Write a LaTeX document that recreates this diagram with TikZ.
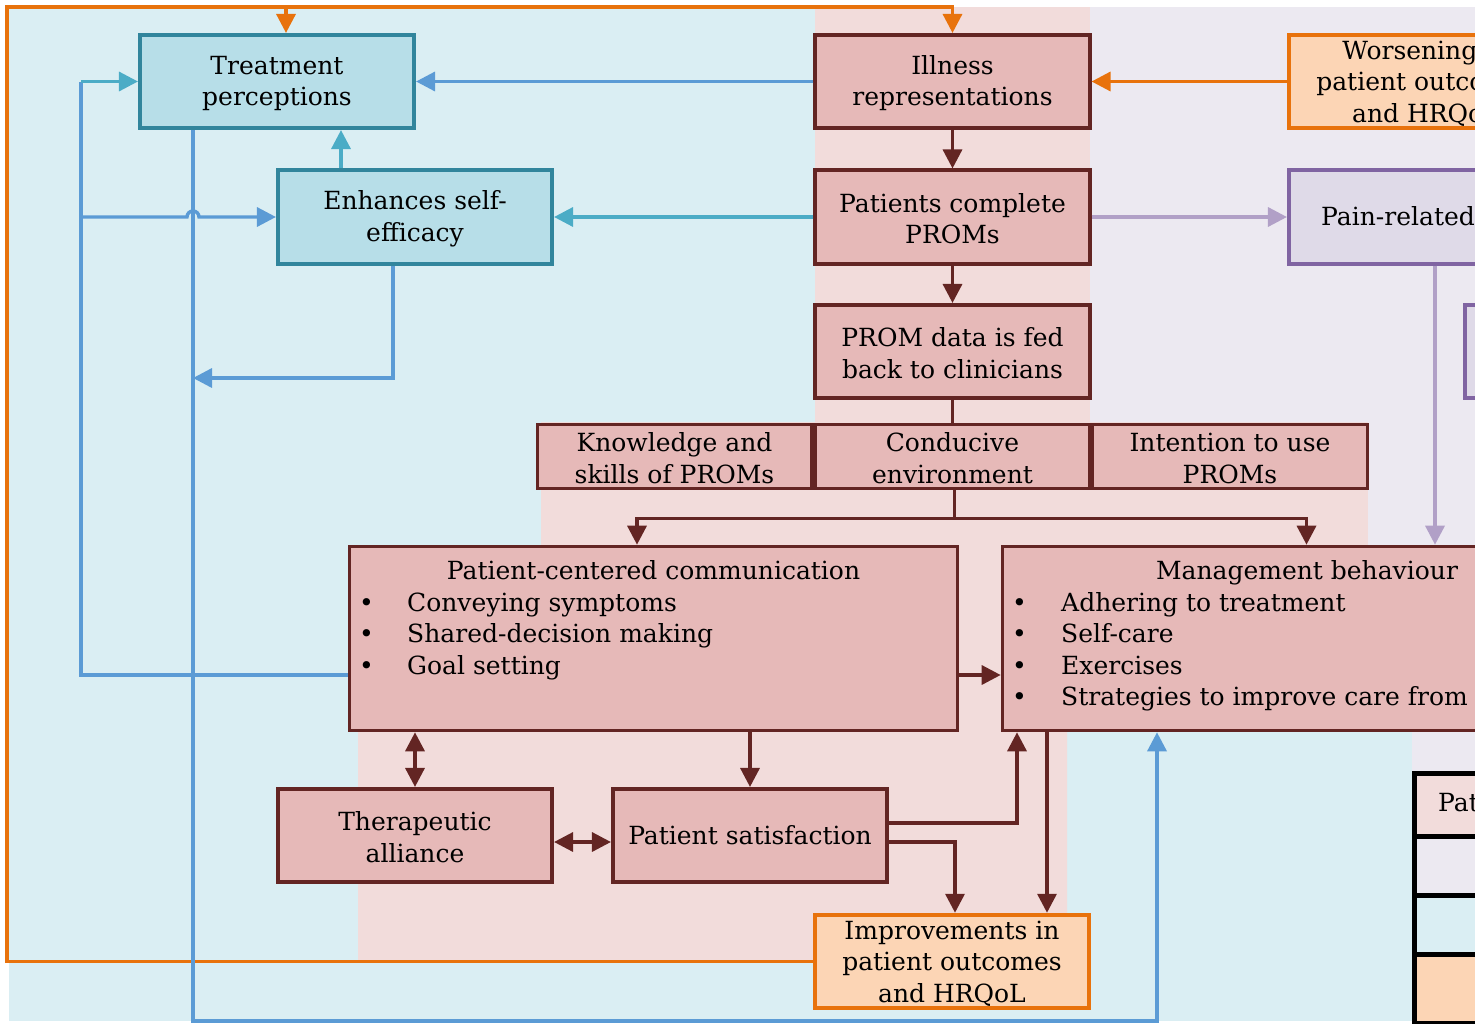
\documentclass[tikz,border=0pt]{standalone}
\usepackage{fontspec}
\setmainfont{DejaVu Serif}
\usetikzlibrary{arrows.meta,calc}
\definecolor{bgblue}{HTML}{DAEEF3}
\definecolor{bgpink}{HTML}{F2DCDB}
\definecolor{bglav}{HTML}{ECE9F1}
\definecolor{fillpink}{HTML}{E6B9B8}
\definecolor{edgered}{HTML}{632523}
\definecolor{fillteal}{HTML}{B7DEE8}
\definecolor{edgeteal}{HTML}{31859C}
\definecolor{fillorange}{HTML}{FCD5B5}
\definecolor{edgeorange}{HTML}{E8720C}
\definecolor{filllav}{HTML}{DFDAE8}
\definecolor{edgelav}{HTML}{8064A2}
\definecolor{lineblue}{HTML}{5B9BD5}
\definecolor{lineteal}{HTML}{4BACC6}
\definecolor{linelav}{HTML}{B1A0C7}
\begin{document}
\begin{tikzpicture}[x=1pt,y=-1pt,
  font=\fontsize{25}{31.5}\selectfont,
  >={Triangle[length=19pt,width=19pt]},
  box/.style={draw, line width=3.6pt, align=center, inner sep=0pt,
              minimum width=274.5pt, minimum height=93.5pt},
  boxpink/.style={box, draw=edgered, fill=fillpink},
  boxteal/.style={box, draw=edgeteal, fill=fillteal},
  boxorange/.style={box, draw=edgeorange, fill=fillorange, line width=4pt},
  boxlav/.style={box, draw=edgelav, fill=filllav},
  legrow/.style={draw=black, line width=4.5pt, minimum width=300pt, inner sep=0pt, anchor=north west},
  lnred/.style={draw=edgered, line width=3.4pt},
  lnblue/.style={draw=lineblue, line width=3.4pt},
  lnteal/.style={draw=lineteal, line width=3.4pt},
  lnlav/.style={draw=linelav, line width=3.4pt},
  lnorange/.style={draw=edgeorange, line width=3.4pt},
  txt/.style={inner sep=0pt, anchor=base west}
]
\useasboundingbox (0,0) rectangle (1475,1023);

% background bands
\fill[bgblue] (9,7) rectangle (1475,1021);
\fill[bgpink] (815,7) -- (1090,7) -- (1090,422) -- (1368,422) -- (1368,640)
  -- (1067,640) -- (1067,960) -- (358,960) -- (358,640) -- (541,640)
  -- (541,422) -- (815,422) -- cycle;
\fill[bglav] (1090,7) -- (1475,7) -- (1475,1021) -- (1412,1021) -- (1412,640)
  -- (1368,640) -- (1368,422) -- (1090,422) -- cycle;

% boxes
\node[boxteal] (treat) at (277,81.5) {\strut Treatment\\perceptions};
\node[boxteal] (enh) at (415,217) {\strut Enhances self-\\efficacy};
\node[boxpink] (ill) at (952.5,81.5) {\strut Illness\\representations};
\node[boxpink] (prom) at (952.5,217) {\strut Patients complete\\PROMs};
\node[boxpink] (fed) at (952.5,351.5) {\strut PROM data is fed\\back to clinicians};
\node[boxpink, minimum width=274pt, minimum height=64pt] (know) at (674.5,456.5) {\strut Knowledge and\\skills of PROMs};
\node[boxpink, minimum width=275pt, minimum height=64pt] (cond) at (952.5,456.5) {\strut Conducive\\environment};
\node[boxpink, minimum width=275pt, minimum height=64pt] (inten) at (1230,456.5) {\strut Intention to use\\PROMs};
\node[boxpink, minimum width=608pt, minimum height=184pt] (pcc) at (653.5,638.5) {};
\node[boxpink, minimum width=608pt, minimum height=184pt] (mgmt) at (1306.5,638.5) {};
\node[boxpink] (ther) at (415,835.5) {\strut Therapeutic\\alliance};
\node[boxpink] (sat) at (750,835.5) {Patient satisfaction};
\node[boxorange] (impr) at (952,961.5) {\strut Improvements in\\patient outcomes\\and HRQoL};
\node[boxorange] (wors) at (1426,81.5) {\strut Worsening of\\patient outcomes\\and HRQoL};
\node[boxlav] (pain) at (1426,217) {};
\node[boxlav] (lavc) at (1602,351.5) {};

% box contents set apart from the boxes
\node[txt] (paintxt) at (1321,225) {Pain-related};
\node[inner sep=0pt, anchor=base] (pcctitle) at (653.5,579) {Patient-centered communication};
\node[txt] (pcclist) at (359,611) {\begin{tabular}[t]{@{}p{48pt}@{}l@{}}
  \textbullet & Conveying symptoms\\
  \textbullet & Shared-decision making\\
  \textbullet & Goal setting
\end{tabular}};
\node[inner sep=0pt, anchor=base] (mgtitle) at (1307,579) {Management behaviour};
\node[txt] (mglist) at (1012,611) {\begin{tabular}[t]{@{}p{49pt}@{}l@{}}
  \textbullet & Adhering to treatment\\
  \textbullet & Self-care\\
  \textbullet & Exercises\\
  \textbullet & Strategies to improve care from others
\end{tabular}};

% legend
\node[legrow, fill=bgpink, minimum height=63pt] (leg1) at (1412,771) {};
\node[legrow, fill=bglav, minimum height=59pt] (leg2) at (1412,834) {};
\node[legrow, fill=bgblue, minimum height=59pt] (leg3) at (1412,893) {};
\node[legrow, fill=fillorange, minimum height=69pt] (leg4) at (1412,952) {};
\node[txt] (legtxt) at (1438,811) {Pat};

% orange feedback loop
\draw[lnorange,->] (impr.west) -| (7,7) -| (ill.north);
\coordinate (ttop) at (286,7);
\draw[lnorange,->] (ttop) -- (ttop |- treat.north);
\draw[lnorange,->] (wors.west) -- (ill.east);

% main chain
\draw[lnblue,->] (ill.west) -- (treat.east);
\draw[lnred,->] (ill.south) -- (prom.north);
\draw[lnred,->] (prom.south) -- (fed.north);
\draw[lnred] (fed.south) -- (cond.north);
\coordinate (split) at ($(cond.south)+(2,28)$);
\draw[lnred] (cond.south -| split) -- (split);
\draw[lnred,->] (split) -| ([xshift=-16.5pt]pcc.north);
\draw[lnred,->] (split) -| (mgmt.north);
\draw[lnteal,->] (prom.west) -- (enh.east);
\draw[lnlav,->] (prom.east) -- (pain.west);
\draw[lnlav,->] ([xshift=9pt]pain.south) -- ([xshift=9pt]pain.south |- mgmt.north);
\draw[lnteal,->] ([xshift=-74pt]enh.north) -- ([xshift=-74pt]enh.north |- treat.south);

% treatment perceptions to management behaviour
\draw[lnblue,->] ([xshift=-84pt]treat.south) -- ([xshift=-84pt]treat.south |- 0,1021)
  -| ([xshift=-149.5pt]mgmt.south);
\coordinate (junc) at (193,378);
\draw[lnblue,->] ([xshift=-22pt]enh.south) |- (junc);

% communication feeds back to perceptions and self-efficacy
\coordinate (lbend) at (81,81.5);
\draw[lnblue] ([yshift=-36.5pt]pcc.west) -| (lbend);
\draw[lnteal,->] (lbend) -- (treat.west);
\draw[lnblue,->] (lbend |- enh.west) -- ++(106,0) arc[start angle=180, end angle=0, radius=6pt] -- (enh.west);

% lower block
\draw[lnred,->] ([yshift=-36.5pt]pcc.east) -- ([yshift=-36.5pt]mgmt.west);
\draw[lnred,<->] (ther.north |- pcc.south) -- (ther.north);
\draw[lnred,->] (sat.north |- pcc.south) -- (sat.north);
\draw[lnred,<->] ([yshift=-6.5pt]ther.east) -- ([yshift=-6.5pt]sat.west);
\draw[lnred,->] ([yshift=12.5pt]sat.east) -| ([xshift=-289.5pt]mgmt.south);
\draw[lnred,->] ([yshift=-6.5pt]sat.east) -| ([xshift=3pt]impr.north);
\draw[lnred,->] ([xshift=-259.5pt]mgmt.south) -- ([xshift=-259.5pt]mgmt.south |- impr.north);
\end{tikzpicture}
\end{document}
